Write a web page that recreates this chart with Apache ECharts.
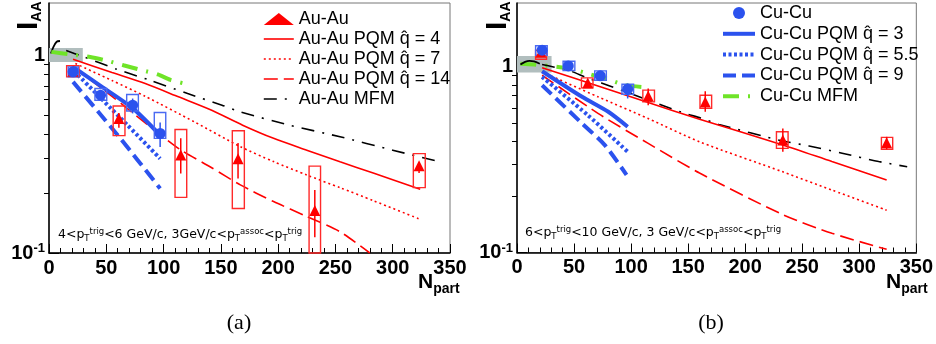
<!DOCTYPE html>
<html>
<head>
<meta charset="utf-8">
<script src="https://cdn.jsdelivr.net/npm/echarts@6/dist/echarts.min.js"></script>
<style>
  html, body { margin: 0; padding: 0; background: #fff; }
  #chart { width: 936px; height: 344px; }
</style>
</head>
<body>
<div id="chart"></div>
<script>
// ---------- axes ----------
const xTicks = [0, 50, 100, 150, 200, 250, 300, 350];
const yMajor = [0.1, 1];
const yMinor = [0.2, 0.3, 0.4, 0.5, 0.6, 0.7, 0.8, 0.9];
const yMaxA = 1.837;
const yMaxB = 2.21;

// ---------- panel (a) : data points ----------
const auNpartA = [21, 61, 115, 165, 232, 323];
const auIaaA = [0.83, 0.479, 0.313, 0.30, 0.164, 0.276];
const auStatA = [[0.80, 0.86], [0.43, 0.51], [0.252, 0.38], [0.238, 0.36], [0.12, 0.208], [0.254, 0.286]];
const auSysA = [[15.4, 26.2, 0.777, 0.885], [56, 66.3, 0.392, 0.554], [110, 120.2, 0.191, 0.421],
  [160, 170.5, 0.168, 0.415], [227, 237, 0.1, 0.275], [318, 328.4, 0.214, 0.318]];

const cuNpartA = [21, 45, 73, 97];
const cuIaaA = [0.824, 0.628, 0.559, 0.402];
const cuStatA = [[0.80, 0.85], [0.61, 0.65], [0.508, 0.604], [0.344, 0.457]];
const cuSysA = [[16.8, 25.6, 0.777, 0.873], [40.1, 50.4, 0.592, 0.679], [67.8, 78, 0.522, 0.633], [91.9, 101.9, 0.38, 0.513]];

// ---------- panel (a) : model curves ----------
const pqm4A_x = [21, 55, 84, 113, 142, 169, 196, 225, 254, 283, 324];
const pqm4A_y = [0.954, 0.818, 0.719, 0.616, 0.527, 0.443, 0.38, 0.331, 0.289, 0.254, 0.21];
const pqm7A_x = [23, 55, 84, 127, 167, 196, 225, 254, 283, 324];
const pqm7A_y = [0.908, 0.745, 0.62, 0.46, 0.345, 0.29, 0.248, 0.214, 0.184, 0.148];
const pqm14A_x = [21, 55, 84, 114, 142, 167, 196, 225, 254, 280];
const pqm14A_y = [0.873, 0.62, 0.455, 0.335, 0.27, 0.221, 0.182, 0.153, 0.128, 0.1];
const mfmAuA_x = [15, 28, 59, 88, 121, 151, 167, 210, 254, 300, 338];
const mfmAuA_y = [1.056, 0.992, 0.85, 0.748, 0.64, 0.559, 0.517, 0.443, 0.387, 0.331, 0.292];
const hookA_x = [1.7, 3.8, 6.7, 9.6];
const hookA_y = [1.02, 1.10, 1.17, 1.18];
const mfmCuA_x = [2, 18, 36, 49, 65, 81, 95, 106, 120];
const mfmCuA_y = [1.04, 1.01, 0.98, 0.943, 0.89, 0.84, 0.80, 0.75, 0.715];
const pqm3A_x = [21, 45, 73, 97];
const pqm3A_y = [0.873, 0.70, 0.54, 0.394];
const pqm55A_x = [22, 69, 97];
const pqm55A_y = [0.83, 0.44, 0.30];
const pqm9A_x = [21, 60, 97];
const pqm9A_y = [0.733, 0.394, 0.212];
const normBoxA = [[0, 29.5, 0.925, 1.088]];

// ---------- panel (b) : data points ----------
const auNpartB = [21, 62, 115, 165, 233, 324];
const auIaaB = [1.2, 0.82, 0.696, 0.648, 0.404, 0.39];
const auStatB = [[1.17, 1.23], [0.79, 0.85], [0.622, 0.765], [0.573, 0.74], [0.349, 0.466], [0.36, 0.42]];
const auSysB = [[16.3, 25.9, 1.10, 1.229], [56.5, 66.6, 0.771, 0.873], [110.3, 120.5, 0.648, 0.75],
  [160.4, 170.6, 0.598, 0.704], [227.4, 237.6, 0.364, 0.447], [319.4, 329.3, 0.36, 0.417]];

const cuNpartB = [22, 45, 73, 97];
const cuIaaB = [1.23, 1.012, 0.895, 0.759];
const cuStatB = [[1.19, 1.27], [0.99, 1.04], [0.87, 0.93], [0.676, 0.814]];
const cuSysB = [[16.3, 26.5, 1.155, 1.30], [40.4, 50.7, 0.956, 1.073], [68.1, 78.3, 0.848, 0.952], [92, 102.2, 0.711, 0.807]];

// ---------- panel (b) : model curves ----------
const pqm4B_x = [22, 71, 115, 160, 233, 276, 324];
const pqm4B_y = [0.99, 0.79, 0.643, 0.522, 0.38, 0.309, 0.246];
const pqm7B_x = [22, 71, 115, 160, 233, 276, 324];
const pqm7B_y = [0.94, 0.69, 0.527, 0.395, 0.272, 0.217, 0.169];
const pqm14B_x = [22, 71, 115, 160, 233, 276, 324];
const pqm14B_y = [0.902, 0.562, 0.387, 0.268, 0.16, 0.127, 0.104];
const mfmAuB_x = [22, 32, 45, 62, 74, 100, 144, 161, 177, 232, 256, 285, 317, 342];
const mfmAuB_y = [1.03, 1.0, 0.96, 0.87, 0.82, 0.716, 0.57, 0.53, 0.49, 0.40, 0.375, 0.343, 0.309, 0.29];
const hookB_x = [3, 7, 11, 15, 20];
const hookB_y = [1.03, 1.065, 1.078, 1.07, 1.04];
const mfmCuB_x = [3, 15, 36, 49, 65, 77, 94, 109];
const mfmCuB_y = [1.04, 1.03, 1.0, 0.97, 0.91, 0.87, 0.80, 0.78];
const pqm3B_x = [22, 57, 80, 97];
const pqm3B_y = [0.948, 0.69, 0.573, 0.476];
const pqm55B_x = [22, 62, 97];
const pqm55B_y = [0.884, 0.55, 0.349];
const pqm9B_x = [22, 57, 77, 96];
const pqm9B_y = [0.797, 0.496, 0.379, 0.262];
const normBoxB = [[0, 30.3, 0.933, 1.146]];

// ---------- styles ----------
const RED = '#ff0000';
const BLUE = '#2b52ee';
const GREEN = '#6fe428';
const FONT = 'Liberation Sans';
const Q = 'q\u0302';

const names = {
  au: 'Au-Au',
  pqm4: 'Au-Au PQM ' + Q + ' = 4',
  pqm7: 'Au-Au PQM ' + Q + ' = 7',
  pqm14: 'Au-Au PQM ' + Q + ' = 14',
  mfmAu: 'Au-Au MFM',
  cu: 'Cu-Cu',
  pqm3: 'Cu-Cu PQM ' + Q + ' = 3',
  pqm55: 'Cu-Cu PQM ' + Q + ' = 5.5',
  pqm9: 'Cu-Cu PQM ' + Q + ' = 9',
  mfmCu: 'Cu-Cu MFM'
};

const styles = {
  pqm4: { color: RED, width: 1.6 },
  pqm7: { color: RED, width: 1.6, type: [2, 3] },
  pqm14: { color: RED, width: 1.6, type: [14, 6] },
  mfmAu: { color: '#000', width: 1.6, type: [13, 8, 2, 8] },
  hook: { color: '#000', width: 1.8 },
  mfmCu: { color: GREEN, width: 4, type: [16, 9, 2, 9] },
  pqm3: { color: BLUE, width: 4 },
  pqm55: { color: BLUE, width: 4, type: [3, 2.5] },
  pqm9: { color: BLUE, width: 4, type: [13, 6] }
};

const series = [];

function pairs(xs, ys) {
  return xs.map((x, i) => [x, ys[i]]);
}

function addLine(name, g, xs, ys, style) {
  series.push({
    type: 'line', name: name, xAxisIndex: g, yAxisIndex: g * 2,
    data: pairs(xs, ys), symbol: 'none', showSymbol: false,
    smooth: 0.25, lineStyle: style, itemStyle: { color: style.color },
    z: 3, silent: true
  });
}

function addBoxes(name, g, boxes, color, fill) {
  series.push({
    type: 'custom', name: name, xAxisIndex: g, yAxisIndex: g * 2,
    data: boxes, encode: { x: [0, 1], y: [2, 3] }, z: fill ? 1 : 4, silent: true,
    renderItem: function (params, api) {
      const p0 = api.coord([api.value(0), api.value(3)]);
      const p1 = api.coord([api.value(1), api.value(2)]);
      return {
        type: 'rect',
        shape: { x: p0[0], y: p0[1], width: p1[0] - p0[0], height: p1[1] - p0[1] },
        style: fill ? { fill: color, stroke: null } : { fill: 'none', stroke: color, lineWidth: 1.4 }
      };
    }
  });
}

function addErrors(name, g, xs, errs, color) {
  series.push({
    type: 'custom', name: name, xAxisIndex: g, yAxisIndex: g * 2,
    data: xs.map((x, i) => [x, errs[i][0], errs[i][1]]),
    encode: { x: 0, y: [1, 2] }, z: 5, silent: true,
    renderItem: function (params, api) {
      const a = api.coord([api.value(0), api.value(1)]);
      const b = api.coord([api.value(0), api.value(2)]);
      return {
        type: 'line',
        shape: { x1: a[0], y1: a[1], x2: b[0], y2: b[1] },
        style: { stroke: color, lineWidth: 1.5 }
      };
    }
  });
}

function addPoints(name, g, xs, ys, symbol, color) {
  series.push({
    type: 'scatter', name: name, xAxisIndex: g, yAxisIndex: g * 2,
    data: pairs(xs, ys), symbol: symbol, symbolSize: 11,
    itemStyle: { color: color, opacity: 1 }, z: 6, silent: true
  });
}

// panel (a)
addBoxes('normA', 0, normBoxA, '#b1bebe', true);
addLine(names.pqm4, 0, pqm4A_x, pqm4A_y, styles.pqm4);
addLine(names.pqm7, 0, pqm7A_x, pqm7A_y, styles.pqm7);
addLine(names.pqm14, 0, pqm14A_x, pqm14A_y, styles.pqm14);
addLine(names.mfmAu, 0, mfmAuA_x, mfmAuA_y, styles.mfmAu);
addLine('hookA', 0, hookA_x, hookA_y, styles.hook);
addLine(names.mfmCu, 0, mfmCuA_x, mfmCuA_y, styles.mfmCu);
addLine(names.pqm3, 0, pqm3A_x, pqm3A_y, styles.pqm3);
addLine(names.pqm55, 0, pqm55A_x, pqm55A_y, styles.pqm55);
addLine(names.pqm9, 0, pqm9A_x, pqm9A_y, styles.pqm9);
addBoxes('auSysA', 0, auSysA, '#ff2a2a', false);
addBoxes('cuSysA', 0, cuSysA, '#4a6af2', false);
addErrors('auStatA', 0, auNpartA, auStatA, RED);
addErrors('cuStatA', 0, cuNpartA, cuStatA, BLUE);
addPoints(names.au, 0, auNpartA, auIaaA, 'triangle', RED);
addPoints(names.cu, 0, cuNpartA, cuIaaA, 'circle', BLUE);

// panel (b)
addBoxes('normB', 1, normBoxB, '#b1bebe', true);
addLine(names.mfmCu, 1, mfmCuB_x, mfmCuB_y, styles.mfmCu);
addLine('hookB', 1, hookB_x, hookB_y, styles.hook);
addLine(names.mfmAu, 1, mfmAuB_x, mfmAuB_y, styles.mfmAu);
addLine(names.pqm4, 1, pqm4B_x, pqm4B_y, styles.pqm4);
addLine(names.pqm7, 1, pqm7B_x, pqm7B_y, styles.pqm7);
addLine(names.pqm14, 1, pqm14B_x, pqm14B_y, styles.pqm14);
addLine(names.pqm3, 1, pqm3B_x, pqm3B_y, styles.pqm3);
addLine(names.pqm55, 1, pqm55B_x, pqm55B_y, styles.pqm55);
addLine(names.pqm9, 1, pqm9B_x, pqm9B_y, styles.pqm9);
addBoxes('auSysB', 1, auSysB, '#ff2a2a', false);
addBoxes('cuSysB', 1, cuSysB, '#4a6af2', false);
addErrors('auStatB', 1, auNpartB, auStatB, RED);
addErrors('cuStatB', 1, cuNpartB, cuStatB, BLUE);
addPoints(names.au, 1, auNpartB, auIaaB, 'triangle', RED);
addPoints(names.cu, 1, cuNpartB, cuIaaB, 'circle', BLUE);

// ---------- axes ----------
function xAxis(g) {
  return {
    gridIndex: g, type: 'value', min: xTicks[0], max: xTicks[xTicks.length - 1], interval: 50,
    axisLine: { onZero: false, lineStyle: { color: '#000', width: 1.5 } },
    axisTick: { inside: true, length: 9, lineStyle: { color: '#000', width: 1 } },
    minorTick: { show: true, splitNumber: 5, length: 5, lineStyle: { color: '#000', width: 1 } },
    splitLine: { show: false },
    axisLabel: { fontSize: 20, fontWeight: 'bold', fontFamily: FONT, color: '#000', margin: 5 }
  };
}
const labelRich = {
  b: { fontSize: 20, fontWeight: 'bold', fontFamily: FONT, color: '#000', lineHeight: 22 },
  s: { fontSize: 13, fontWeight: 'bold', fontFamily: FONT, color: '#000', lineHeight: 12, verticalAlign: 'top' }
};
function yAxes(g, yMax) {
  return [{
    gridIndex: g, type: 'log', logBase: 10, min: yMajor[0], max: yMax,
    axisLine: { show: true, onZero: false, lineStyle: { color: '#000', width: 1.5 } },
    axisTick: { inside: true, length: 10, customValues: yMajor, lineStyle: { color: '#000' } },
    axisLabel: {
      customValues: yMajor, margin: 4,
      formatter: v => (v > 0.5 ? '{b|1}' : '{b|10}{s|-1}'),
      rich: labelRich
    },
    splitLine: { show: false }
  }, {
    gridIndex: g, type: 'log', logBase: 10, min: yMajor[0], max: yMax,
    axisLine: { show: false },
    axisTick: { inside: true, length: 5, customValues: yMinor, lineStyle: { color: '#000' } },
    axisLabel: { show: false },
    splitLine: { show: false }
  }];
}

// ---------- texts ----------
const txtMain = { fontSize: 12.5, fontFamily: 'DejaVu Sans', color: '#222', lineHeight: 16 };
const txtSup = { fontSize: 8.5, fontFamily: 'DejaVu Sans', color: '#222', lineHeight: 8, verticalAlign: 'top' };
const txtSub = { fontSize: 8.5, fontFamily: 'DejaVu Sans', color: '#222', lineHeight: 8, verticalAlign: 'bottom' };
const cutTextA = '{m|4<p}{d|T}{u|trig}{m|<6 GeV/c, 3GeV/c<p}{d|T}{u|assoc}{m|<p}{d|T}{u|trig}';
const cutTextB = '{m|6<p}{d|T}{u|trig}{m|<10 GeV/c, 3 GeV/c<p}{d|T}{u|assoc}{m|<p}{d|T}{u|trig}';

function yTitle(x) {
  return {
    type: 'text', x: x, y: 30, rotation: Math.PI / 2, silent: true,
    style: {
      text: '{i|I}{s|AA}', align: 'left', verticalAlign: 'bottom',
      rich: {
        i: { fontSize: 30, fontWeight: 'bold', fontFamily: FONT, color: '#000', lineHeight: 30, verticalAlign: 'bottom' },
        s: { fontSize: 14, fontWeight: 'bold', fontFamily: FONT, color: '#000', lineHeight: 14, verticalAlign: 'bottom' }
      }
    }
  };
}
function xTitle(x) {
  return {
    type: 'text', x: x, y: 296, silent: true,
    style: {
      text: '{n|N}{s|part}', align: 'left', verticalAlign: 'bottom',
      rich: {
        n: { fontSize: 21, fontWeight: 'bold', fontFamily: FONT, color: '#000', lineHeight: 24, verticalAlign: 'top' },
        s: { fontSize: 14, fontWeight: 'bold', fontFamily: FONT, color: '#000', lineHeight: 14, verticalAlign: 'bottom' }
      }
    }
  };
}
function cutText(x, y, t) {
  return {
    type: 'text', x: x, y: y, silent: true,
    style: { text: t, align: 'left', verticalAlign: 'middle', rich: { m: txtMain, u: txtSup, d: txtSub } }
  };
}
function caption(x, t) {
  return {
    type: 'text', x: x, y: 323, silent: true,
    style: { text: t, align: 'center', verticalAlign: 'middle', fontSize: 22, fontFamily: 'Liberation Serif', fill: '#000' }
  };
}

const legendText = { fontSize: 18, fontFamily: FONT, color: '#000', lineHeight: 20 };
const legendKeys = {};
Object.keys(names).forEach(k => { legendKeys[names[k]] = k; });
function legendData(list, markerName) {
  return list.map(n => {
    if (n === markerName) return { name: n, itemStyle: { opacity: 1 } };
    const st = styles[legendKeys[n]];
    return { name: n, lineStyle: { width: st.width, type: st.type || 'solid', color: st.color } };
  });
}

const option = {
  animation: false,
  backgroundColor: '#fff',
  grid: [
    { left: 49, top: 3, width: 401, height: 250, show: true, borderColor: '#777', borderWidth: 1, backgroundColor: 'transparent' },
    { left: 517, top: 3, width: 401, height: 249.5, show: true, borderColor: '#777', borderWidth: 1, backgroundColor: 'transparent' }
  ],
  xAxis: [xAxis(0), xAxis(1)],
  yAxis: yAxes(0, yMaxA).concat(yAxes(1, yMaxB)),
  legend: [{
    left: 263, top: 9, padding: 0, orient: 'vertical', itemWidth: 30, itemHeight: 12, itemGap: 0,
    selectedMode: false, textStyle: legendText, itemStyle: { opacity: 0 },
    data: legendData([names.au, names.pqm4, names.pqm7, names.pqm14, names.mfmAu], names.au)
  }, {
    left: 721, top: 3, padding: 0, orient: 'vertical', itemWidth: 32, itemHeight: 12, itemGap: 0.8,
    selectedMode: false, textStyle: legendText, itemStyle: { opacity: 0 },
    data: legendData([names.cu, names.pqm3, names.pqm55, names.pqm9, names.mfmCu], names.cu)
  }],
  graphic: {
    elements: [
      yTitle(44), yTitle(513),
      xTitle(418), xTitle(886),
      cutText(58, 235, cutTextA), cutText(525, 233, cutTextB),
      caption(239, '(a)'), caption(711, '(b)')
    ]
  },
  series: series
};

const chart = echarts.init(document.getElementById('chart'), null, { renderer: 'canvas' });
chart.setOption(option);
</script>
</body>
</html>
